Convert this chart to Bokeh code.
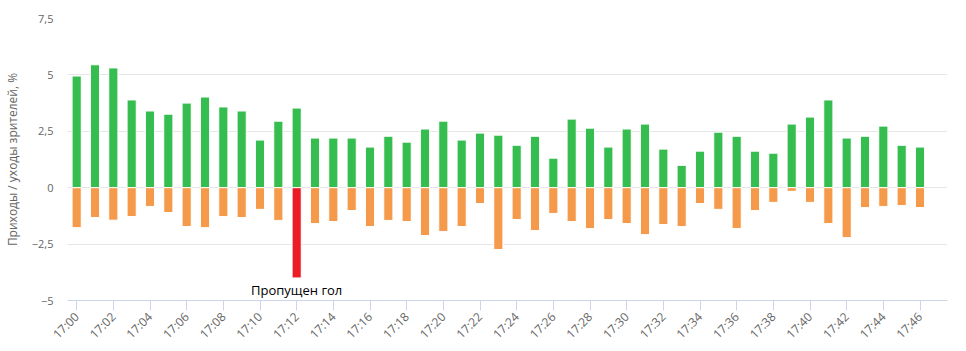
from bokeh.plotting import figure
from bokeh.models import FixedTicker, CustomJSTickFormatter, Range1d, ColumnDataSource
from bokeh.core.properties import value
from bokeh.embed import file_html
from bokeh.resources import INLINE
from math import pi

minutes = list(range(47))
labels = ["17:%02d" % m for m in minutes]
arrivals = [4.95, 5.45, 5.31, 3.89, 3.40, 3.26, 3.75, 4.02, 3.58, 3.40,
            2.11, 2.95, 3.53, 2.20, 2.20, 2.20, 1.80, 2.28, 2.02, 2.60,
            2.95, 2.11, 2.42, 2.33, 1.88, 2.28, 1.31, 3.04, 2.64, 1.80,
            2.60, 2.82, 1.71, 0.99, 1.62, 2.46, 2.28, 1.62, 1.53, 2.82,
            3.13, 3.89, 2.20, 2.28, 2.73, 1.88, 1.80]
departures = [-1.77, -1.32, -1.44, -1.28, -0.83, -1.10, -1.72, -1.77, -1.28, -1.32,
              -0.96, -1.45, -4.00, -1.59, -1.50, -1.01, -1.72, -1.45, -1.50, -2.12,
              -1.94, -1.72, -0.70, -2.74, -1.41, -1.90, -1.14, -1.50, -1.81, -1.41,
              -1.59, -2.08, -1.63, -1.72, -0.70, -0.96, -1.81, -1.01, -0.65, -0.16,
              -0.65, -1.59, -2.21, -0.88, -0.83, -0.79, -0.88]
goal_minute = 12
goal_label = "Пропущен гол"
y_ticks = [-5, -2.5, 0, 2.5, 5, 7.5]

GREEN = "#36bd4f"
ORANGE = "#f5994a"
RED = "#ec1c24"
FONT = "Open Sans"

p = figure(width=966, height=351, output_backend="svg", toolbar_location=None,
           x_range=Range1d(-0.5, 47.5), y_range=Range1d(-5, 7.5),
           min_border_left=66, min_border_right=19, min_border_top=18, min_border_bottom=51)
p.outline_line_color = None
p.background_fill_color = "white"
p.border_fill_color = "white"

src_pos = ColumnDataSource(dict(x=minutes, top=arrivals))
neg_colors = [RED if m == goal_minute else ORANGE for m in minutes]
src_neg = ColumnDataSource(dict(x=minutes, bottom=departures, color=neg_colors))

p.vbar(x="x", top="top", bottom=0, width=0.5, source=src_pos,
       fill_color=GREEN, line_color="white", line_width=1)
p.vbar(x="x", top=0, bottom="bottom", width=0.5, source=src_neg,
       fill_color="color", line_color="white", line_width=1)

p.text(x=[goal_minute], y=[departures[goal_minute]], text=[goal_label],
       text_align="center", text_baseline="top", y_offset=3,
       text_font=value(FONT), text_font_size="13px", text_color="#000000")

# grids
p.xgrid.visible = False
p.ygrid.grid_line_color = "#e6e6e6"
p.ygrid.ticker = FixedTicker(ticks=y_ticks)

# y axis
yax = p.yaxis[0]
yax.ticker = FixedTicker(ticks=y_ticks)
yax.formatter = CustomJSTickFormatter(code="return tick.toString().replace('.', ',').replace('-', '\u2212');")
yax.axis_line_color = None
yax.major_tick_line_color = None
yax.minor_tick_line_color = None
yax.major_tick_in = 0
yax.major_tick_out = 0
yax.major_label_standoff = 14
yax.major_label_text_color = "#666666"
yax.major_label_text_font = FONT
yax.major_label_text_font_size = "11px"
yax.axis_label = "Приходы / уходы зрителей, %"
yax.axis_label_text_font = FONT
yax.axis_label_text_font_size = "12px"
yax.axis_label_text_font_style = "normal"
yax.axis_label_text_color = "#666666"
yax.axis_label_standoff = 8

# x axis
xax = p.xaxis[0]
xax.ticker = FixedTicker(ticks=minutes[::2])
xax.major_label_overrides = {m: labels[m] for m in minutes}
xax.major_label_orientation = pi / 4
xax.axis_line_color = "#ccd6eb"
xax.major_tick_line_color = "#ccd6eb"
xax.major_tick_in = 0
xax.major_tick_out = 10
xax.minor_tick_line_color = None
xax.major_label_standoff = 4
xax.major_label_text_color = "#666666"
xax.major_label_text_font = FONT
xax.major_label_text_font_size = "12px"

open("out.html", "w").write(file_html(p, INLINE))
